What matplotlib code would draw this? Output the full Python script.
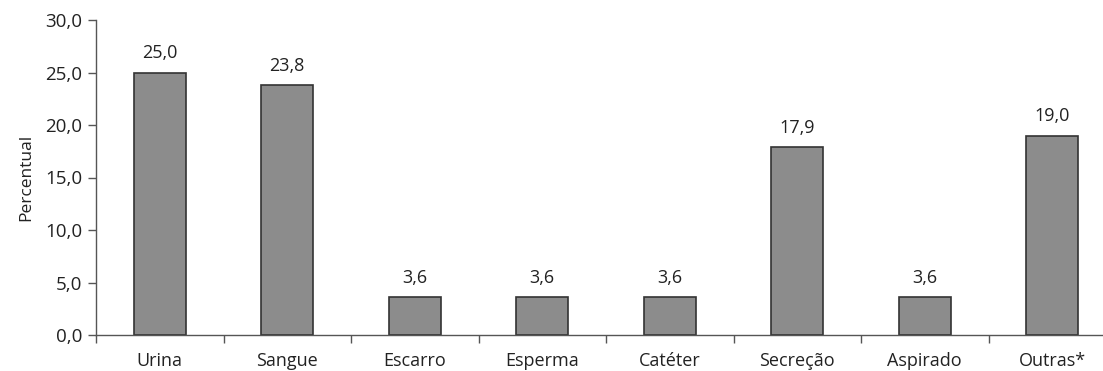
import matplotlib
matplotlib.use("Agg")
import matplotlib.pyplot as plt
import numpy as np

categories = ["Urina", "Sangue", "Escarro", "Esperma", "Catéter", "Secreção", "Aspirado", "Outras*"]
values = [25.0, 23.8, 3.6, 3.6, 3.6, 17.9, 3.6, 19.0]

plt.rcParams['font.family'] = ['Open Sans', 'DejaVu Sans']

W, H = 1103, 371
fig = plt.figure(figsize=(W/100, H/100), dpi=100)
x0, x1 = 96, 1116
y0, y1 = 335, 20
ax = fig.add_axes([x0/W, 1 - y0/H, (x1-x0)/W, (y0-y1)/H])

x = np.arange(len(categories))
bars = ax.bar(x, values, width=0.41, color="#8c8c8c", edgecolor="#333333", linewidth=1.2)
for xi, v in zip(x, values):
    ax.text(xi, v + 1.0, f"{v:.1f}".replace(".", ","), ha="center", va="bottom", fontsize=13, color="#222222")

ax.set_xlim(-0.5, len(categories) - 0.5)
ax.set_ylim(0, 30)
ax.set_yticks(np.arange(0, 31, 5))
ax.set_yticklabels([f"{t:.1f}".replace(".", ",") for t in np.arange(0, 31, 5)], fontsize=13.5, color="#222222")
ax.set_xticks(np.arange(-0.5, len(categories), 1.0))
ax.set_xticklabels([])
ax.set_xticks(x, minor=True)
ax.set_xticklabels(categories, minor=True, fontsize=13, color="#222222")
ax.tick_params(axis="x", which="major", direction="out", length=6, width=1, color="#555555")
ax.tick_params(axis="x", which="minor", length=0, pad=12)
ax.tick_params(axis="y", direction="out", length=6, width=1, color="#555555", pad=4)
ax.set_ylabel("Percentual", fontsize=12.5, color="#222222", labelpad=8)
for s in ["top", "right"]:
    ax.spines[s].set_visible(False)
for s in ["left", "bottom"]:
    ax.spines[s].set_color("#555555")
    ax.spines[s].set_linewidth(1)

fig.savefig("out.png", dpi=100)
